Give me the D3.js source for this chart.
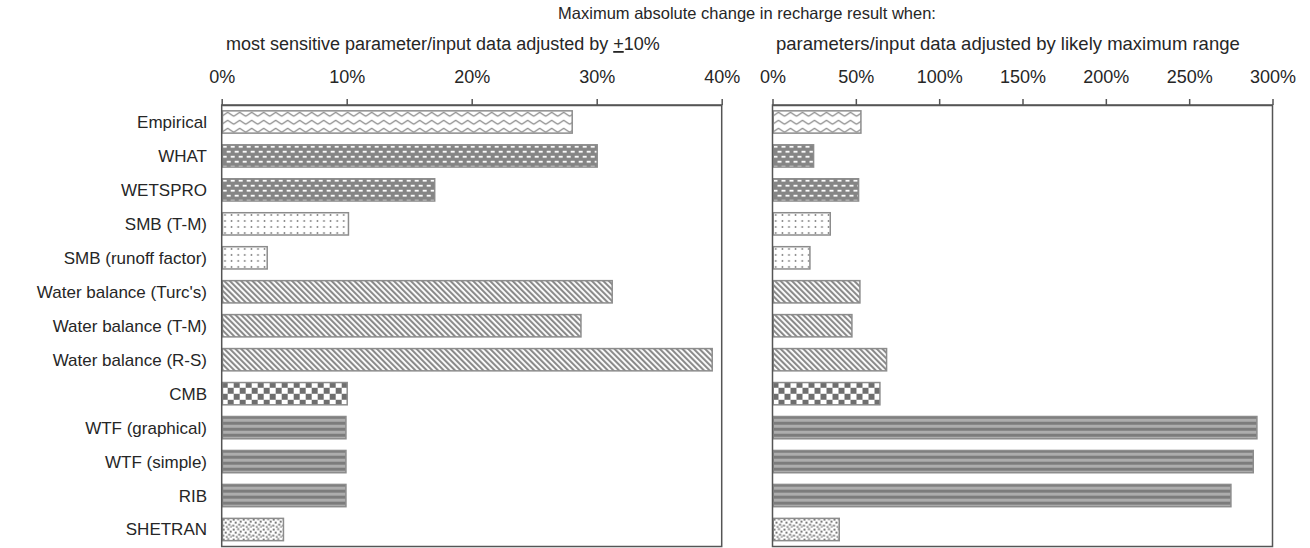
<!DOCTYPE html>
<html>
<head>
<meta charset="utf-8">
<script src="https://cdn.jsdelivr.net/npm/d3@7/dist/d3.min.js"></script>
<style>
  html, body { margin: 0; padding: 0; background: #fff; }
  svg { display: block; font-family: "Liberation Sans", Arial, sans-serif; }
</style>
</head>
<body>
<svg id="chart" width="1310" height="548"></svg>
<script>
// Recharge method names, top to bottom
const categories = [
  "Empirical", "WHAT", "WETSPRO", "SMB (T-M)", "SMB (runoff factor)",
  "Water balance (Turc's)", "Water balance (T-M)", "Water balance (R-S)",
  "CMB", "WTF (graphical)", "WTF (simple)", "RIB", "SHETRAN"
];

// Fill style for each method
const fillKinds = [
  "zigzag", "dash", "dash", "dots", "dots",
  "diagonal", "diagonal", "diagonal",
  "checker", "hstripe", "hstripe", "hstripe", "speckle"
];

// Max absolute change (%) when the most sensitive parameter is adjusted by ±10%
const tenPercentChange = [28.1, 30.1, 17.1, 10.2, 3.7, 31.3, 28.8, 39.3, 10.1, 10.0, 10.0, 10.0, 5.0];

// Max absolute change (%) when parameters are adjusted by their likely maximum range
const maxRangeChange = [53.5, 25.1, 52.1, 35.1, 22.9, 52.9, 48.1, 68.9, 64.9, 291.1, 288.9, 275.5, 40.5];

const leftTicks = [0, 10, 20, 30, 40];
const rightTicks = [0, 50, 100, 150, 200, 250, 300];

const titleText = "Maximum absolute change in recharge result when:";
const leftSubtitle = "most sensitive parameter/input data adjusted by ";
const rightSubtitle = "parameters/input data adjusted by likely maximum range";

const svg = d3.select("#chart");
const defs = svg.append("defs");

const plotTop = 105, plotBottom = 546.5;
const textColor = "#262626";
const frameColor = "#555";
const barStroke = "#8c8c8c";

const y = d3.scaleBand()
  .domain(categories)
  .range([plotTop, plotBottom])
  .paddingInner(0.3)
  .paddingOuter(0.15);

const panels = [
  { id: "p1", values: tenPercentChange, ticks: leftTicks, domain: [0, 40], range: [221.7, 721.7] },
  { id: "p2", values: maxRangeChange, ticks: rightTicks, domain: [0, 300], range: [772.5, 1272.5] }
];

// Build a pattern anchored at the bar's top-left corner
function makePattern(id, kind, ox, oy) {
  const sizes = { zigzag: [12, 8], dash: [8, 10], dots: [6.6, 6], diagonal: [4, 4],
                  checker: [12, 12], hstripe: [6, 6], speckle: [10, 10] };
  const [w, h] = sizes[kind];
  const p = defs.append("pattern")
    .attr("id", id)
    .attr("patternUnits", "userSpaceOnUse")
    .attr("x", ox).attr("y", oy)
    .attr("width", w).attr("height", h);
  if (kind === "diagonal") p.attr("patternTransform", `rotate(-45 ${ox} ${oy})`);

  switch (kind) {
    case "zigzag":
      p.append("rect").attr("width", w).attr("height", h).attr("fill", "#fff");
      p.append("path").attr("d", "M0,6.2 L6,2.2 L12,6.2")
        .attr("fill", "none").attr("stroke", "#8a8a8a").attr("stroke-width", 1.3);
      break;
    case "dash":
      p.append("rect").attr("width", w).attr("height", h).attr("fill", "#858585");
      p.append("rect").attr("x", 1).attr("y", 1.8).attr("width", 4).attr("height", 1.8).attr("fill", "#fff");
      p.append("rect").attr("x", 5).attr("y", 6.8).attr("width", 4).attr("height", 1.8).attr("fill", "#fff");
      p.append("rect").attr("x", -3).attr("y", 6.8).attr("width", 4).attr("height", 1.8).attr("fill", "#fff");
      break;
    case "dots":
      p.append("rect").attr("width", w).attr("height", h).attr("fill", "#fff");
      p.append("circle").attr("cx", w / 2).attr("cy", h / 2).attr("r", 0.9).attr("fill", "#7a7a7a");
      break;
    case "diagonal":
      p.append("rect").attr("width", w).attr("height", h).attr("fill", "#fff");
      p.append("rect").attr("width", 2.1).attr("height", h).attr("fill", "#8a8a8a");
      break;
    case "checker":
      p.append("rect").attr("width", w).attr("height", h).attr("fill", "#fff");
      p.append("rect").attr("x", 0).attr("y", 0).attr("width", 6).attr("height", 6).attr("fill", "#6e6e6e");
      p.append("rect").attr("x", 6).attr("y", 6).attr("width", 6).attr("height", 6).attr("fill", "#6e6e6e");
      break;
    case "hstripe":
      p.append("rect").attr("width", w).attr("height", h).attr("fill", "#7c7c7c");
      p.append("rect").attr("y", 3).attr("width", w).attr("height", 3).attr("fill", "#adadad");
      break;
    case "speckle":
      p.append("rect").attr("width", w).attr("height", h).attr("fill", "#fff");
      [[1, 1], [5.5, 0.5], [8, 3], [3, 4], [6.5, 6], [0.5, 7], [4, 8.5], [8.5, 8.5]].forEach(([sx, sy]) => {
        p.append("rect").attr("x", sx).attr("y", sy).attr("width", 2).attr("height", 2).attr("fill", "#7a7a7a");
      });
      break;
  }
}

panels.forEach(panel => {
  const x = d3.scaleLinear().domain(panel.domain).range(panel.range);
  const g = svg.append("g").attr("class", panel.id);

  // bars
  categories.forEach((cat, i) => {
    const by = y(cat), bh = y.bandwidth();
    const x0 = x(0), x1 = x(panel.values[i]);
    const pid = `${panel.id}-fill-${i}`;
    makePattern(pid, fillKinds[i], x0, by);
    g.append("rect")
      .attr("x", x0 + 0.75)
      .attr("y", by + 0.75)
      .attr("width", Math.max(0, x1 - x0 - 1.5))
      .attr("height", bh - 1.5)
      .attr("fill", `url(#${pid})`)
      .attr("stroke", barStroke)
      .attr("stroke-width", 1.5);
  });

  // frame
  g.append("rect")
    .attr("x", panel.range[0]).attr("y", plotTop)
    .attr("width", panel.range[1] - panel.range[0])
    .attr("height", plotBottom - plotTop)
    .attr("fill", "none")
    .attr("stroke", frameColor)
    .attr("stroke-width", 1.5);

  // top axis
  const axis = d3.axisTop(x)
    .tickValues(panel.ticks)
    .tickSize(6)
    .tickSizeOuter(0)
    .tickPadding(16)
    .tickFormat(d => d + "%");
  const ag = g.append("g").attr("transform", `translate(0,${plotTop})`).call(axis);
  ag.select(".domain").attr("stroke", frameColor).attr("stroke-width", 1.5);
  ag.selectAll(".tick line").attr("stroke", frameColor).attr("stroke-width", 1.5);
  ag.selectAll(".tick text")
    .attr("font-size", 18)
    .attr("fill", textColor)
    .attr("font-family", "Liberation Sans, Arial, sans-serif");
});

// category labels
svg.append("g").selectAll("text")
  .data(categories)
  .join("text")
  .attr("x", 207)
  .attr("y", d => y(d) + y.bandwidth() / 2)
  .attr("dy", "0.35em")
  .attr("text-anchor", "end")
  .attr("font-size", 17)
  .attr("fill", textColor)
  .text(d => d);

// headings
svg.append("text")
  .attr("x", 747).attr("y", 19)
  .attr("text-anchor", "middle")
  .attr("font-size", 16.5)
  .attr("fill", textColor)
  .text(titleText);

const sub1 = svg.append("text")
  .attr("x", 226).attr("y", 50)
  .attr("font-size", 18)
  .attr("fill", textColor);
sub1.append("tspan").text(leftSubtitle);
sub1.append("tspan").attr("text-decoration", "underline").text("+");
sub1.append("tspan").text("10%");

svg.append("text")
  .attr("x", 776).attr("y", 50)
  .attr("font-size", 18.5)
  .attr("fill", textColor)
  .text(rightSubtitle);
</script>
</body>
</html>
